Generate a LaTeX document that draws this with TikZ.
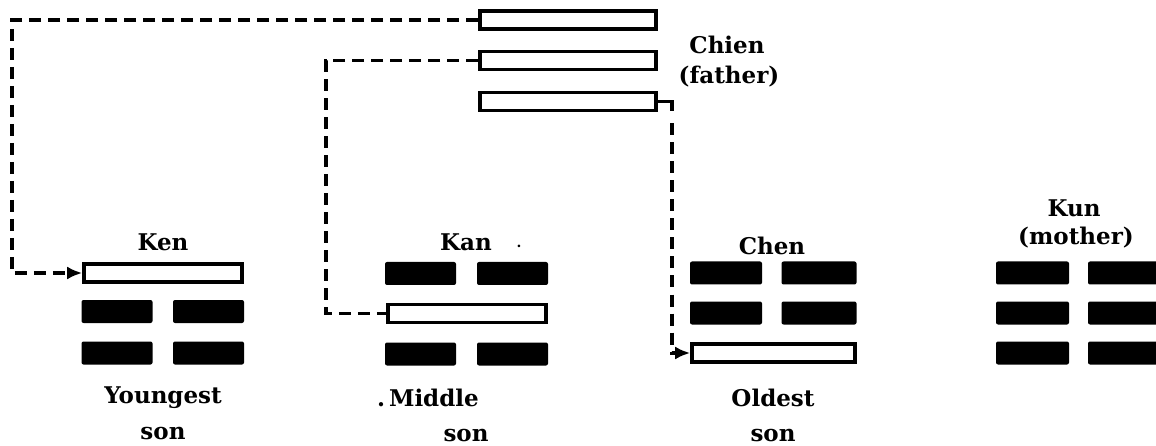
\documentclass[tikz,border=0pt]{standalone}
\usepackage{fontspec}
\setmainfont{DejaVu Serif}
\usetikzlibrary{arrows.meta}
\begin{document}
\begin{tikzpicture}[x=1pt,y=-1pt,
  yang/.style={draw=black, line width=3.6pt, fill=white, rectangle, inner sep=0pt, minimum height=18pt},
  yin/.style={fill=black, rectangle, rounded corners=2pt, inner sep=0pt, minimum height=23pt, minimum width=71pt},
  lbl/.style={font=\bfseries\fontsize{23}{26}\selectfont, inner sep=0pt, anchor=center},
  conn/.style={line width=3.2pt, dash pattern=on 12pt off 7pt},
  tip/.style={-{Latex[length=15pt,width=13pt]}}
]
\useasboundingbox (0,0) rectangle (1156,446);
% Chien (father)
\node[yang, minimum width=176pt] (ch1) at (568,20) {};
\node[yang, minimum width=176pt] (ch2) at (568,60.5) {};
\node[yang, minimum width=176pt] (ch3) at (568,101.5) {};
\node[lbl] (chienA) at (727,45) {Chien};
\node[lbl] (chienB) at (729,77) {(father)};
% Ken
\node[lbl] (kenT) at (163,242) {Ken};
\node[yang, minimum width=158pt] (ken1) at (163,273) {};
\node[yin] (ken2a) at (117,311.5) {};
\node[yin] (ken2b) at (208.5,311.5) {};
\node[yin] (ken3a) at (117,353) {};
\node[yin] (ken3b) at (208.5,353) {};
\node[lbl] (kenB1) at (163,398) {Youngest};
\node[lbl] (kenB2) at (163,434) {son};
% Kan
\node[lbl] (kanT) at (466,242) {Kan};
\node[font=\bfseries\fontsize{14}{16}\selectfont, inner sep=0pt] (kandot) at (519,246) {.};
\node[yin] (kan1a) at (420.5,273.5) {};
\node[yin] (kan1b) at (512.5,273.5) {};
\node[yang, minimum width=158pt] (kan2) at (467,313.5) {};
\node[yin] (kan3a) at (420.5,354) {};
\node[yin] (kan3b) at (512.5,354) {};
\node[lbl] (kanB1) at (428,398) {.\,Middle};
\node[lbl] (kanB2) at (466,436) {son};
% Chen
\node[lbl] (chenT) at (772,246) {Chen};
\node[yin, minimum width=72pt] (chen1a) at (726,273) {};
\node[yin, minimum width=75pt] (chen1b) at (819,273) {};
\node[yin, minimum width=72pt] (chen2a) at (726,313) {};
\node[yin, minimum width=75pt] (chen2b) at (819,313) {};
\node[yang, minimum width=163pt] (chen3) at (773.5,353) {};
\node[lbl] (chenB1) at (773,398) {Oldest};
\node[lbl] (chenB2) at (773,436) {son};
% Kun (mother)
\node[lbl] (kunA) at (1074,208) {Kun};
\node[lbl] (kunB) at (1076,238) {(mother)};
\node[yin, minimum width=73pt] (kun1a) at (1032.5,273) {};
\node[yin, minimum width=73pt] (kun1b) at (1124.5,273) {};
\node[yin, minimum width=73pt] (kun2a) at (1032.5,313) {};
\node[yin, minimum width=73pt] (kun2b) at (1124.5,313) {};
\node[yin, minimum width=73pt] (kun3a) at (1032.5,353) {};
\node[yin, minimum width=73pt] (kun3b) at (1124.5,353) {};
% connectors
\coordinate (k1) at (12,0);
\coordinate (k2) at (326,0);
\coordinate (k3) at (672,0);
\draw[conn, tip] (ch1.west) -- (k1 |- ch1.west) -- (k1 |- ken1.west) -- (ken1.west);
\draw[conn] (ch2.west) -- (k2 |- ch2.west) -- (k2 |- kan2.west) -- (kan2.west);
\draw[line width=3.2pt] (ch3.east) -- (k3 |- ch3.east) -- ([yshift=-10pt]k3 |- ch3.east);
\draw[conn, tip] ([yshift=-22pt]k3 |- ch3.east) -- (k3 |- chen3.west) -- (chen3.west);
\end{tikzpicture}
\end{document}
